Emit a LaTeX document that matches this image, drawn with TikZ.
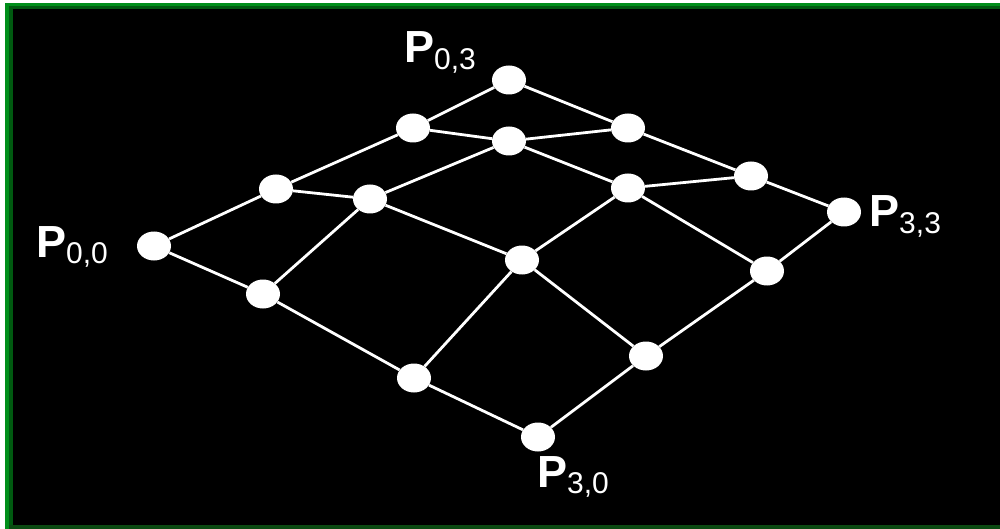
\documentclass[tikz,border=0pt]{standalone}
\usepackage{fontspec}
\setmainfont{Liberation Sans}
\usetikzlibrary{shapes.geometric}
\definecolor{frameA}{HTML}{008F1A}
\definecolor{frameB}{HTML}{005A10}
\definecolor{frameC}{HTML}{0B4A12}
\newcommand{\subsz}{\fontsize{30}{30}\selectfont\mdseries}
\tikzset{
  pt/.style={ellipse,fill=white,draw=none,minimum width=34pt,minimum height=29pt,inner sep=0pt},
  net/.style={draw=white,line width=2.8pt},
  lbl/.style={text=white,inner sep=0pt,anchor=base west,font=\fontsize{45}{45}\selectfont\bfseries}
}
\begin{document}
\begin{tikzpicture}[x=1pt,y=-1pt]
\useasboundingbox (0,0) rectangle (1000,529);
\fill[white] (0,0) rectangle (1000,529);
\fill[frameA] (5,3) rectangle (1000,529);
\fill[frameB] (9,6) rectangle (1000,529);
\fill[frameC] (9,525) rectangle (1000,529);
\fill[black] (13,9) rectangle (1000,525);
\node[pt] (a00) at (154,246) {};
\node[pt] (a10) at (263,294) {};
\node[pt] (a20) at (414,378) {};
\node[pt] (a30) at (538,437) {};
\node[pt] (a01) at (276,189) {};
\node[pt] (a11) at (370,199) {};
\node[pt] (a21) at (522,260) {};
\node[pt] (a31) at (646,356) {};
\node[pt] (a02) at (413,128) {};
\node[pt] (a12) at (509,141) {};
\node[pt] (a22) at (628,188) {};
\node[pt] (a32) at (767,271) {};
\node[pt] (a03) at (509,80) {};
\node[pt] (a13) at (628,128) {};
\node[pt] (a23) at (751,176) {};
\node[pt] (a33) at (844,212) {};
\draw[net] (a00)--(a01);\draw[net] (a01)--(a02);\draw[net] (a02)--(a03);
\draw[net] (a03)--(a13);\draw[net] (a13)--(a23);\draw[net] (a23)--(a33);
\draw[net] (a33)--(a32);\draw[net] (a32)--(a31);\draw[net] (a31)--(a30);
\draw[net] (a30)--(a20);\draw[net] (a20)--(a10);\draw[net] (a10)--(a00);
\draw[net] (a01)--(a11);\draw[net] (a11)--(a21);\draw[net] (a21)--(a31);
\draw[net] (a02)--(a12);\draw[net] (a12)--(a22);\draw[net] (a22)--(a32);
\draw[net] (a10)--(a11);\draw[net] (a11)--(a12);\draw[net] (a12)--(a13);
\draw[net] (a20)--(a21);\draw[net] (a21)--(a22);\draw[net] (a22)--(a23);
\node[lbl] (l00) at (36,257) {P\raisebox{-6pt}{\subsz 0,0}};
\node[lbl] (l03) at (404,63) {P\raisebox{-7pt}{\subsz 0,3}};
\node[lbl] (l30) at (537,487) {P\raisebox{-6pt}{\subsz 3,0}};
\node[lbl] (l33) at (869,227) {P\raisebox{-6pt}{\subsz 3,3}};
\end{tikzpicture}
\end{document}
